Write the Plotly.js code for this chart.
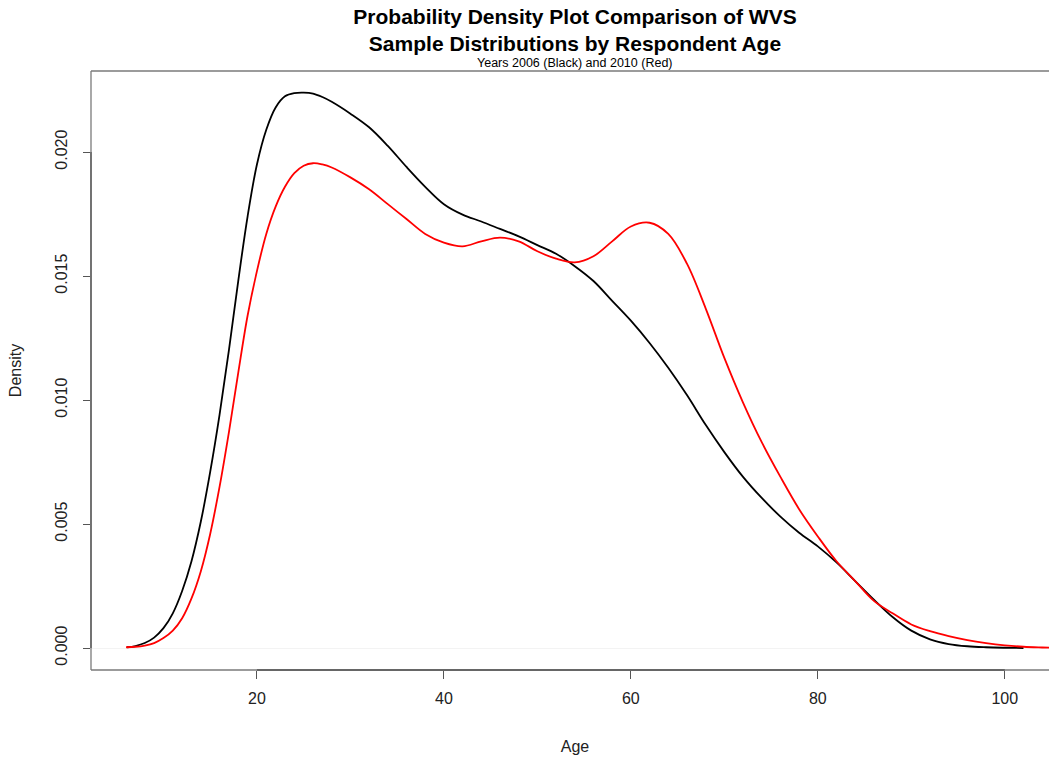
<!DOCTYPE html>
<html>
<head>
<meta charset="utf-8">
<script src="https://cdn.plot.ly/plotly-3.0.1.min.js"></script>
<style>
html, body { margin:0; padding:0; overflow:hidden; background:#fff; }
#chart { width:1080px; height:761px; }
</style>
</head>
<body>
<div id="chart"></div>
<script>
// Density of respondent age, WVS 2006 (black)
const age2006 = [6.1, 7, 8, 9, 10, 11, 12, 13, 14, 15, 16, 17, 18, 19, 20, 21, 22, 23, 24, 25, 26, 27, 28, 30, 32, 34, 36, 38, 40, 42, 44, 46, 48, 50, 52, 54, 56, 58, 60, 62, 64, 66, 68, 70, 72, 74, 76, 78, 80, 82, 84, 86, 88, 90, 92, 94, 96, 98, 100, 102];
const dens2006 = [0.00003, 0.00008, 0.0002, 0.00042, 0.0008, 0.0014, 0.0023, 0.0035, 0.0051, 0.0071, 0.0094, 0.0120, 0.0148, 0.0174, 0.0195, 0.0209, 0.0218, 0.02225, 0.02238, 0.0224, 0.02236, 0.02222, 0.02203, 0.02155, 0.0210, 0.02025, 0.0194, 0.0186, 0.0179, 0.01748, 0.0172, 0.0169, 0.0166, 0.01625, 0.0159, 0.0154, 0.0148, 0.0140, 0.0132, 0.0123, 0.0113, 0.0102, 0.0090, 0.0079, 0.0069, 0.00605, 0.0053, 0.00465, 0.0041, 0.00345, 0.0027, 0.00195, 0.00125, 0.0007, 0.00035, 0.00016, 0.00007, 0.00003, 0.00001, 0.0];

// Density of respondent age, WVS 2010 (red)
const age2010 = [6.0, 7, 8, 9, 10, 11, 12, 13, 14, 15, 16, 17, 18, 19, 20, 21, 22, 23, 24, 25, 26, 27, 28, 30, 32, 34, 36, 38, 40, 42, 44, 46, 48, 50, 52, 54, 56, 58, 60, 62, 64, 66, 68, 70, 72, 74, 76, 78, 80, 82, 84, 86, 88, 90, 92, 94, 96, 98, 100, 102, 104, 106];
const dens2010 = [0.00003, 0.00005, 0.0001, 0.0002, 0.0004, 0.0007, 0.0012, 0.0020, 0.0031, 0.0046, 0.0065, 0.0087, 0.0111, 0.0134, 0.0152, 0.0167, 0.0178, 0.0186, 0.01915, 0.01945, 0.01955, 0.0195, 0.01938, 0.01898, 0.0185, 0.0179, 0.0173, 0.0167, 0.01635, 0.0162, 0.0164, 0.01655, 0.0164, 0.0160, 0.0157, 0.01555, 0.0158, 0.0164, 0.0170, 0.01715, 0.0167, 0.0155, 0.0137, 0.0117, 0.0099, 0.0083, 0.0069, 0.0056, 0.0045, 0.0035, 0.0027, 0.0019, 0.0014, 0.00095, 0.00068, 0.00048, 0.00032, 0.0002, 0.00011, 0.00005, 0.00002, 0.0];

const xTicks = [20, 40, 60, 80, 100];
const yTicks = [0, 0.005, 0.010, 0.015, 0.020];
const yTickText = ['0.000', '0.005', '0.010', '0.015', '0.020'];

const FONT = 'Liberation Sans, Arial, Helvetica, sans-serif';

const traces = [
  { x: age2006, y: dens2006, type: 'scatter', mode: 'lines',
    line: { color: '#000000', width: 1.8, shape: 'spline', smoothing: 1 }, hoverinfo: 'skip', name: '2006' },
  { x: age2010, y: dens2010, type: 'scatter', mode: 'lines',
    line: { color: '#ff0000', width: 1.8, shape: 'spline', smoothing: 1 }, hoverinfo: 'skip', name: '2010' }
];

const boxColor = '#7a7a7a';
const axisColor = '#555555';

const layout = {
  width: 1080, height: 761,
  margin: { l: 91, r: 21, t: 71, b: 91 },
  paper_bgcolor: '#ffffff', plot_bgcolor: '#ffffff',
  showlegend: false,
  font: { family: FONT, color: '#000' },
  title: {
    text: 'Probability Density Plot Comparison of WVS<br>Sample Distributions by Respondent Age',
    font: { family: FONT, size: 21, color: '#000', weight: 'bold' },
    x: 0.5, xref: 'paper', xanchor: 'center',
    y: 1 - 24 / 761, yref: 'container', yanchor: 'middle'
  },
  annotations: [{
    text: 'Years 2006 (Black) and 2010 (Red)', showarrow: false,
    xref: 'paper', x: 0.5, xanchor: 'center',
    yref: 'paper', y: 1, yanchor: 'middle', yshift: 8,
    font: { family: FONT, size: 12.5, color: '#000' }
  }],
  xaxis: {
    range: [2.25, 105.8], autorange: false,
    tickmode: 'array', tickvals: xTicks, ticktext: xTicks.map(String),
    ticks: 'outside', ticklen: 8, tickwidth: 1, tickcolor: axisColor,
    ticklabelstandoff: 6,
    tickfont: { family: FONT, size: 16, color: '#222' },
    showgrid: false, zeroline: false, showline: false,
    title: { text: 'Age', font: { family: FONT, size: 16, color: '#222' }, standoff: 34 }
  },
  yaxis: {
    range: [-0.000887, 0.02327], autorange: false,
    tickmode: 'array', tickvals: yTicks, ticktext: yTickText, tickangle: -90,
    ticks: 'outside', ticklen: 7, tickwidth: 1, tickcolor: axisColor,
    ticklabelstandoff: 10,
    tickfont: { family: FONT, size: 16, color: '#222' },
    showgrid: false, zeroline: true, zerolinecolor: '#f3f3f3', zerolinewidth: 1, showline: false,
    title: { text: 'Density', font: { family: FONT, size: 16, color: '#222' }, standoff: 26 }
  },
  shapes: [
    { type: 'line', xref: 'paper', yref: 'paper', x0: 0, x1: 0, y0: 0, y1: 1, line: { color: boxColor, width: 1.3 } },
    { type: 'line', xref: 'paper', yref: 'paper', x0: 0, x1: 1, y0: 1, y1: 1, line: { color: boxColor, width: 1.3 } },
    { type: 'line', xref: 'paper', yref: 'paper', x0: 0, x1: 1, y0: 0, y1: 0, line: { color: boxColor, width: 1.3 } },
    { type: 'line', xref: 'paper', yref: 'paper', x0: 1, x1: 1, y0: 0, y1: 1, line: { color: boxColor, width: 1.3 } },
    { type: 'line', xref: 'x', yref: 'paper', x0: xTicks[0], x1: xTicks[xTicks.length - 1], y0: 0, y1: 0, line: { color: axisColor, width: 1.3 } },
    { type: 'line', xref: 'paper', yref: 'y', x0: 0, x1: 0, y0: yTicks[0], y1: yTicks[yTicks.length - 1], line: { color: axisColor, width: 1.3 } }
  ]
};

Plotly.newPlot('chart', traces, layout, { displayModeBar: false, staticPlot: true });
</script>
</body>
</html>
